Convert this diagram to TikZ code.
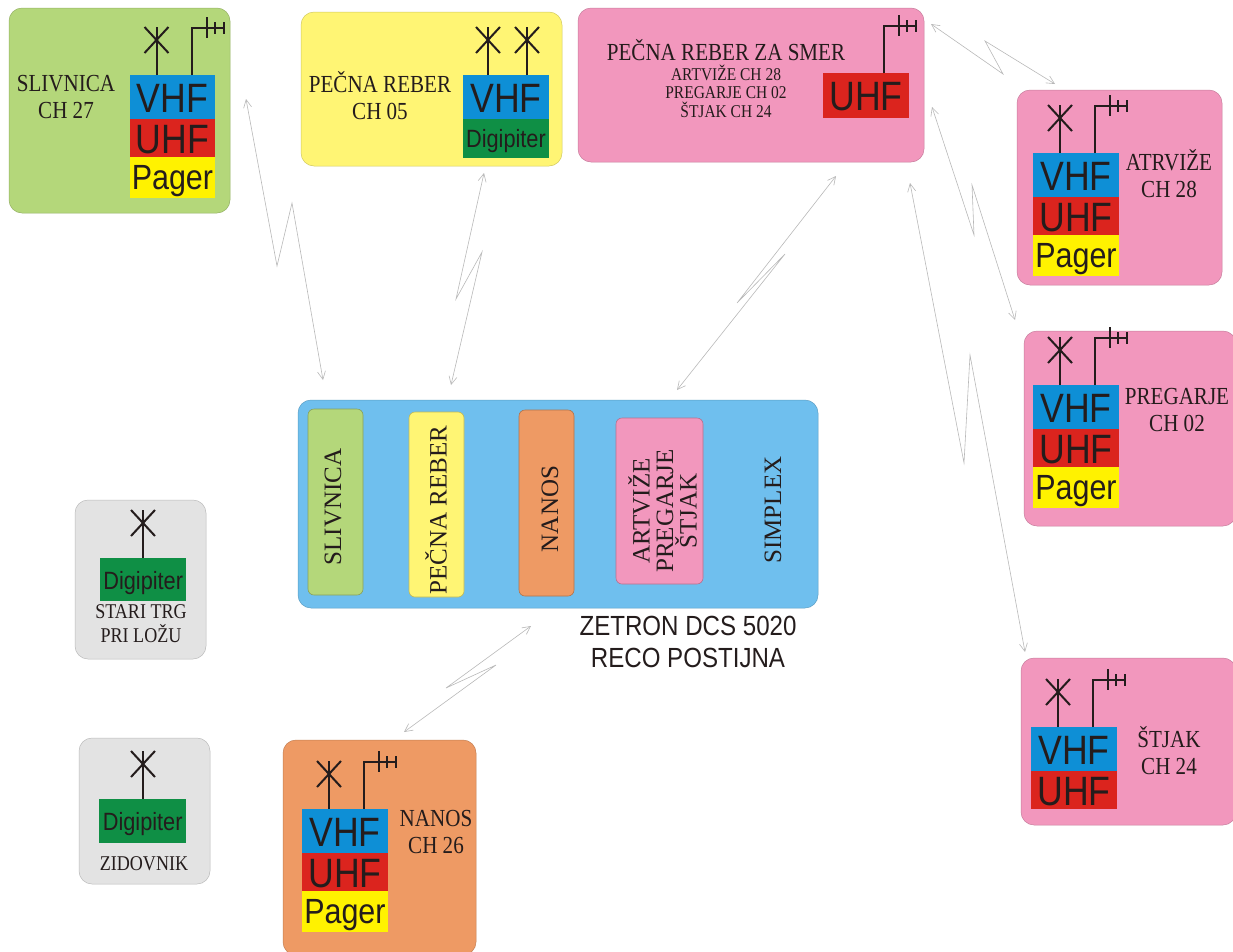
\documentclass[tikz,border=0pt]{standalone}
\usepackage{fontspec}
\setmainfont{Liberation Serif}
\newfontfamily\blockfont[FakeStretch=0.87]{Liberation Sans}
\newfontfamily\labelfont[FakeStretch=0.86]{Liberation Serif}
\usetikzlibrary{arrows.meta}
\definecolor{cgreen}{HTML}{B4D77A}
\definecolor{cyellow}{HTML}{FFF574}
\definecolor{cpink}{HTML}{F297BD}
\definecolor{corange}{HTML}{EE9A64}
\definecolor{cblue}{HTML}{6FBFEE}
\definecolor{cgray}{HTML}{E3E3E3}
\definecolor{bvhf}{HTML}{0E8FD6}
\definecolor{buhf}{HTML}{DB241E}
\definecolor{bpager}{HTML}{FFF200}
\definecolor{bdigi}{HTML}{0F8F45}
\definecolor{ink}{HTML}{241C1C}
\newcommand{\lowered}[2]{\raisebox{-#1}[\height][\depth]{#2}}
\tikzset{
  panel/.style={rounded corners=13pt,draw=#1!82!black,fill=#1,line width=.5pt,inner sep=0pt},
  slot/.style={rounded corners=6pt,draw=#1!75!black,fill=#1,line width=.6pt,inner sep=0pt,minimum width=55pt},
  blk/.style={anchor=north west,inner sep=0pt,minimum width=85.5pt,fill=#1,text=ink,font=\blockfont\fontsize{41}{41}\selectfont},
  lab/.style={text=ink,align=center,inner sep=0pt,font=\labelfont\fontsize{24.5}{27}\selectfont},
  rot/.style={text=ink,align=center,inner sep=0pt,rotate=90,font=\fontsize{25}{23.5}\selectfont},
  sanslab/.style={text=ink,align=center,inner sep=0pt,font=\blockfont\fontsize{27.7}{32}\selectfont},
  ant/.style={draw=ink,line width=2pt},
  link/.style={draw=black!28,line width=.6pt,{Straight Barb[length=8pt,width=8pt]}-{Straight Barb[length=8pt,width=8pt]}}
}
\newcommand{\whipant}[2]{%
  \draw[ant] (#1,#2) -- ++(0,-48);
  \draw[ant] (#1-12,#2-22) -- (#1+12,#2-48);
  \draw[ant] (#1-12,#2-48) -- (#1+12,#2-22);
}
\newcommand{\yagiant}[2]{%
  \draw[ant] (#1,#2) -- ++(0,-47) -- ++(32,0);
  \draw[ant] (#1+15,#2-58) -- ++(0,21);
  \draw[ant] (#1+23,#2-53) -- ++(0,12);
  \draw[ant] (#1+32,#2-53) -- ++(0,12);
}
% name, left, top
\newcommand{\radiotwo}[3]{%
  \node[blk=bvhf,minimum height=44pt] (#1v) at (#2,#3) {\lowered{1pt}{VHF}};
  \node[blk=buhf,minimum height=38pt] (#1u) at (#2,#3+44) {\lowered{1pt}{UHF}};
  \whipant{#2+27}{#3}
  \yagiant{#2+62}{#3}
}
\newcommand{\radiothree}[3]{%
  \radiotwo{#1}{#2}{#3}
  \node[blk=bpager,minimum height=41pt,font=\blockfont\fontsize{35}{35}\selectfont] (#1p) at (#2,#3+82) {\lowered{3pt}{Pager}};
}
\begin{document}
\begin{tikzpicture}[x=1pt,y=-1pt]
\useasboundingbox (0,0) rectangle (1233,951);
% panels
\node[panel=cgreen,minimum width=221pt,minimum height=205pt] (slivnica) at (119.5,110.5) {};
\node[panel=cyellow,minimum width=261pt,minimum height=154pt] (pecna) at (431.5,89) {};
\node[panel=cpink,minimum width=346pt,minimum height=154pt] (smer) at (751,85) {};
\node[panel=cpink,minimum width=205pt,minimum height=195pt] (atrvize) at (1119.5,187.5) {};
\node[panel=cpink,minimum width=212pt,minimum height=195pt] (pregarje) at (1130,428.5) {};
\node[panel=cpink,minimum width=215pt,minimum height=167pt] (stjak) at (1128.5,741.5) {};
\node[panel=cblue,minimum width=520pt,minimum height=208pt] (zetron) at (558,504) {};
\node[panel=cgray,minimum width=131pt,minimum height=159pt] (stari) at (140.5,579.5) {};
\node[panel=cgray,minimum width=131pt,minimum height=146pt] (zidovnik) at (144.5,811) {};
\node[panel=corange,minimum width=193pt,minimum height=215pt] (nanos) at (379.5,847.5) {};
% slots in Zetron
\node[slot=cgreen,minimum height=186pt] (s1) at (335.5,502) {};
\node[slot=cyellow,minimum height=185pt] (s2) at (436.5,504.5) {};
\node[slot=corange,minimum height=186pt] (s3) at (546.5,503) {};
\node[slot=cpink,minimum width=87pt,minimum height=166pt] (s4) at (659.5,501) {};
\node[rot] (t1) at (333,507) {SLIVNICA};
\node[rot] (t2) at (436,510) {PEČNA REBER};
\node[rot] (t3) at (550,509) {NANOS};
\node[rot] (t4) at (662.5,511) {ARTVIŽE\\PREGARJE\\ŠTJAK};
\node[rot] (t5) at (773,510) {SIMPLEX};
% radios
\radiothree{a}{129.5}{75}
\node[blk=bvhf,minimum height=44pt] (pv) at (463,75) {\lowered{1pt}{VHF}};
\node[blk=bdigi,minimum height=39pt,font=\blockfont\fontsize{25}{25}\selectfont] (pd) at (463,119) {\lowered{2pt}{Digipiter}};
\whipant{488}{75}
\whipant{527}{75}
\node[blk=buhf,minimum height=45pt] (su) at (823,73) {\lowered{1pt}{UHF}};
\yagiant{884}{73}
\radiothree{b}{1033}{153}
\radiothree{c}{1033}{385}
\radiotwo{d}{1031}{727}
\radiothree{e}{302}{809}
\node[blk=bdigi,minimum width=86pt,minimum height=43pt,font=\blockfont\fontsize{25}{25}\selectfont] (g1) at (100,558) {\lowered{3pt}{Digipiter}};
\whipant{143}{558}
\node[blk=bdigi,minimum width=87pt,minimum height=44pt,font=\blockfont\fontsize{25}{25}\selectfont] (g2) at (99,799) {\lowered{3pt}{Digipiter}};
\whipant{143}{799}
% labels
\node[lab] (l1) at (66,97) {SLIVNICA\\CH 27};
\node[lab] (l2) at (380,96) {PEČNA REBER\\CH 05};
\node[lab] (l3) at (726,50) {PEČNA REBER ZA SMER};
\node[lab,font=\labelfont\fontsize{18}{18.5}\selectfont] (l4) at (726,91) {ARTVIŽE CH 28\\PREGARJE CH 02\\ŠTJAK CH 24};
\node[lab] (l5) at (1169,174) {ATRVIŽE\\CH 28};
\node[lab] (l6) at (1177,410) {PREGARJE\\CH 02};
\node[lab] (l7) at (1169,751) {ŠTJAK\\CH 24};
\node[lab] (l8) at (436,832) {NANOS\\CH 26};
\node[lab,font=\labelfont\fontsize{21}{24}\selectfont] (l9) at (141,624) {STARI TRG\\PRI LOŽU};
\node[lab,font=\labelfont\fontsize{21}{24}\selectfont] (l10) at (144,864) {ZIDOVNIK};
\node[sanslab] (z) at (688,642) {ZETRON DCS 5020\\RECO POSTIJNA};
% radio links
\coordinate (a1) at (246,99);   \coordinate (a2) at (323,380);
\coordinate (b1) at (484,173);  \coordinate (b2) at (451,385);
\coordinate (c1) at (836,176);  \coordinate (c2) at (677,390);
\coordinate (d1) at (931,24);   \coordinate (d2) at (1055,84);
\coordinate (f1) at (932,107);  \coordinate (f2) at (1015,320);
\coordinate (h1) at (910,183);  \coordinate (h2) at (1025,652);
\coordinate (i1) at (531,626);  \coordinate (i2) at (404,732);
\draw[link] (a1) -- (277,266) -- (292,203) -- (a2);
\draw[link] (b1) -- (456,299) -- (482,252) -- (b2);
\draw[link] (c1) -- (737,303) -- (785,254) -- (c2);
\draw[link] (d1) -- (1003,74) -- (985,41) -- (d2);
\draw[link] (f1) -- (974,235) -- (972,185) -- (f2);
\draw[link] (h1) -- (964,463) -- (970,355) -- (h2);
\draw[link] (i1) -- (446,688) -- (496,665) -- (i2);
\end{tikzpicture}
\end{document}
